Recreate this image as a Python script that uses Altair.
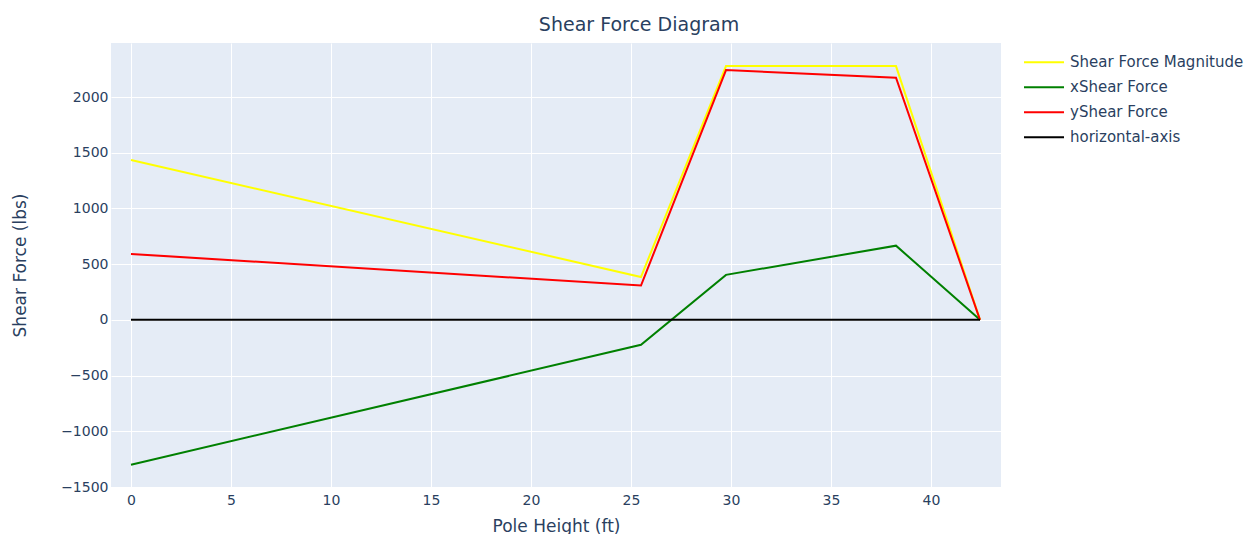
import altair as alt
import pandas as pd

# ---- data ----
heights = [0, 25.5, 29.75, 38.25, 42.45]
magnitude = [1435, 385, 2278, 2278, 0]
x_shear = [-1300, -224, 404, 666, 0]
y_shear = [592, 308, 2242, 2173, 0]
axis_heights = [0, 42.45]
axis_values = [0, 0]

series_names = ["Shear Force Magnitude", "xShear Force", "yShear Force", "horizontal-axis"]
series_colors = ["#ffff00", "#008000", "#ff0000", "#000000"]
x_ticks = [0, 5, 10, 15, 20, 25, 30, 35, 40]
y_ticks = [-1500, -1000, -500, 0, 500, 1000, 1500, 2000]

rows = []
for name, xs, ys in [
    (series_names[0], heights, magnitude),
    (series_names[1], heights, x_shear),
    (series_names[2], heights, y_shear),
    (series_names[3], axis_heights, axis_values),
]:
    for i, (xv, yv) in enumerate(zip(xs, ys)):
        rows.append({"series": name, "h": xv, "v": yv, "i": i})
df = pd.DataFrame(rows)

FONT = "DejaVu Sans"
TXT = "#2a3f5f"

color = alt.Color(
    "series:N",
    scale=alt.Scale(domain=series_names, range=series_colors),
    legend=alt.Legend(
        title=None,
        orient="none",
        legendX=912,
        legendY=7,
        symbolType="stroke",
        symbolSize=1600,
        symbolStrokeWidth=2,
        labelFont=FONT,
        labelFontSize=15,
        labelColor=TXT,
        labelOffset=5,
        clipHeight=24.7,
        rowPadding=0,
        labelLimit=300,
    ),
)

x_enc = alt.X(
    "h:Q",
    title="Pole Height (ft)",
    scale=alt.Scale(domain=[-1.0, 43.5], nice=False, zero=False),
    axis=alt.Axis(
        values=x_ticks,
        grid=True,
        gridColor="white",
        gridWidth=1,
        domain=False,
        ticks=False,
        labelPadding=6,
        labelFont=FONT,
        labelFontSize=14,
        labelColor=TXT,
        titleFont=FONT,
        titleFontSize=17,
        titleFontWeight="normal",
        titleColor=TXT,
        titleBaseline="middle",
        titleY=39,
    ),
)
y_enc = alt.Y(
    "v:Q",
    title="Shear Force (lbs)",
    scale=alt.Scale(domain=[-1500, 2485], nice=False, zero=False),
    axis=alt.Axis(
        values=y_ticks,
        format="d",
        grid=True,
        gridColor="white",
        gridWidth=1,
        domain=False,
        ticks=False,
        labelPadding=3,
        labelFont=FONT,
        labelFontSize=14,
        labelColor=TXT,
        titleFont=FONT,
        titleFontSize=17,
        titleFontWeight="normal",
        titleColor=TXT,
        titleBaseline="middle",
        titleX=-91,
    ),
)

layers = []
for name in series_names:
    layers.append(
        alt.Chart(df)
        .transform_filter(alt.datum.series == name)
        .mark_line(strokeWidth=2, clip=True)
        .encode(x=x_enc, y=y_enc, color=color, order="i:Q")
    )

chart = (
    alt.layer(*layers)
    .properties(
        width=890,
        height=444,
        background="white",
        title=alt.TitleParams(
            "Shear Force Diagram",
            font=FONT,
            fontSize=19,
            fontWeight="normal",
            color=TXT,
            anchor="middle",
            dx=83,
            dy=4,
            baseline="middle",
            offset=3,
        ),
        autosize=alt.AutoSizeParams(type="none"),
        padding={"left": 103, "top": 35, "right": 244, "bottom": 47},
    )
    .configure_view(fill="#e5ecf6", strokeWidth=0)
)

chart.save("out.html", embed_options={"renderer": "svg", "actions": False})
